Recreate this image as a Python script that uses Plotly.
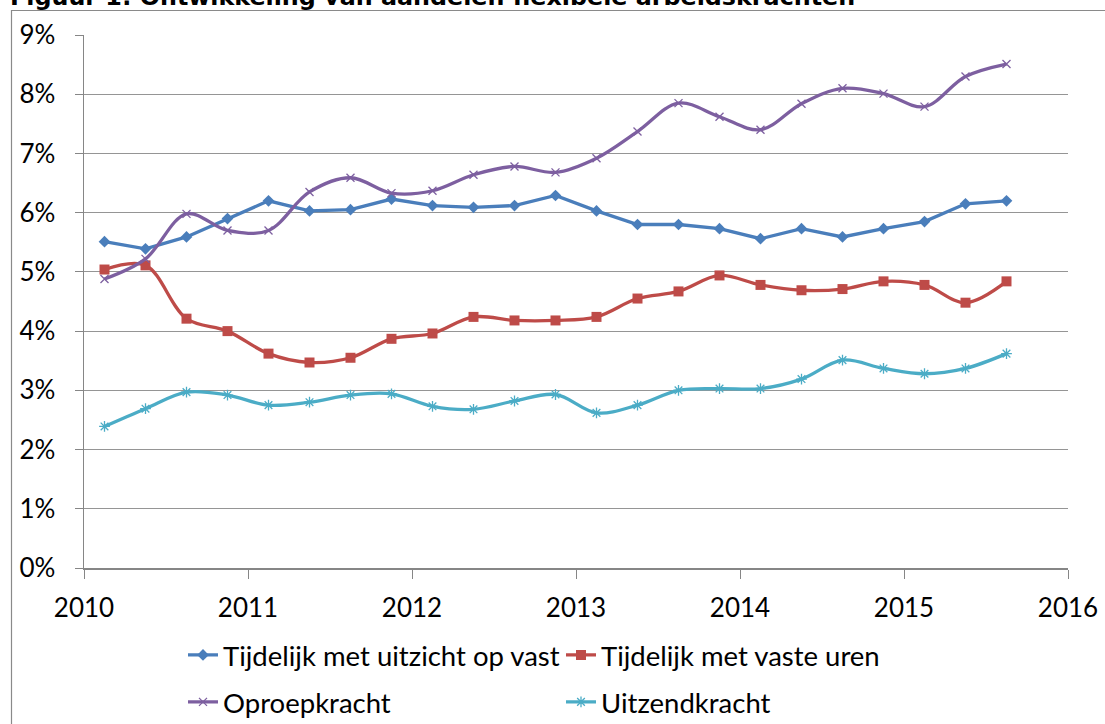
import plotly.graph_objects as go

quarters = ["2010Q1","2010Q2","2010Q3","2010Q4","2011Q1","2011Q2","2011Q3","2011Q4",
            "2012Q1","2012Q2","2012Q3","2012Q4","2013Q1","2013Q2","2013Q3","2013Q4",
            "2014Q1","2014Q2","2014Q3","2014Q4","2015Q1","2015Q2","2015Q3"]

tijdelijk_uitzicht = [5.51, 5.39, 5.59, 5.90, 6.20, 6.03, 6.05, 6.23, 6.12, 6.09, 6.12, 6.29,
                      6.03, 5.80, 5.80, 5.73, 5.56, 5.73, 5.59, 5.73, 5.85, 6.15, 6.20]
tijdelijk_vaste_uren = [5.04, 5.11, 4.21, 4.00, 3.62, 3.47, 3.55, 3.87, 3.96, 4.24, 4.18, 4.18,
                        4.24, 4.55, 4.67, 4.94, 4.78, 4.69, 4.71, 4.84, 4.78, 4.48, 4.84]
oproepkracht = [4.88, 5.22, 5.98, 5.70, 5.70, 6.35, 6.59, 6.33, 6.37, 6.64, 6.78, 6.68,
                6.92, 7.37, 7.85, 7.62, 7.40, 7.84, 8.10, 8.01, 7.79, 8.30, 8.51]
uitzendkracht = [2.39, 2.69, 2.97, 2.92, 2.75, 2.80, 2.92, 2.94, 2.73, 2.68, 2.82, 2.93,
                 2.62, 2.75, 3.00, 3.03, 3.03, 3.19, 3.51, 3.37, 3.28, 3.37, 3.62]

series_names = ["Tijdelijk met uitzicht op vast", "Tijdelijk met vaste uren",
                "Oproepkracht", "Uitzendkracht"]
title_text = "Figuur 1: Ontwikkeling van aandelen flexibele arbeidskrachten"

# decimal year at the middle of each quarter
x = [int(q[:4]) + (int(q[-1]) - 0.5) / 4 for q in quarters]

W, H = 1105, 724
ML, MR, MT, MB = 84, 37, 35, 156
PW, PH = W - ML - MR, H - MT - MB

def px_x(p):
    return (p - ML) / PW

def px_y(p):
    return (H - MB - p) / PH

FONT = "Lato, 'Open Sans', sans-serif"

fig = go.Figure()
styles = [
    dict(color="#4A7EBB", symbol="diamond", size=9, shape="linear", lw=0),
    dict(color="#BE4B48", symbol="square", size=10, shape="spline", lw=0),
    dict(color="#7D5FA0", symbol="x-thin", size=8, shape="spline", lw=1.3),
    dict(color="#4BACC6", symbol="asterisk", size=9, shape="spline", lw=1.3),
]
data = [tijdelijk_uitzicht, tijdelijk_vaste_uren, oproepkracht, uitzendkracht]
legends = ["legend", "legend2", "legend3", "legend4"]
for name, vals, st, lg in zip(series_names, data, styles, legends):
    fig.add_trace(go.Scatter(
        x=x, y=vals, name=name, mode="lines+markers", legend=lg,
        line=dict(color=st["color"], width=3.3, shape=st["shape"], smoothing=1),
        marker=dict(symbol=st["symbol"], size=st["size"], color=st["color"],
                    line=dict(color=st["color"], width=st["lw"])),
    ))

legfont = dict(family=FONT, size=27.5, color="#000000")
leg_pos = [(188 - 5, 655), (566 - 5, 655), (188 - 5, 702), (566 - 5, 702)]
for lg, (lx, ly) in zip(legends, leg_pos):
    fig.update_layout(**{lg: dict(x=px_x(lx), y=px_y(ly), xanchor="left", yanchor="middle",
                                  orientation="h", font=legfont, bgcolor="rgba(0,0,0,0)",
                                  borderwidth=0, itemclick=False)})

fig.update_layout(
    width=W, height=H,
    margin=dict(l=ML, r=MR, t=MT, b=MB, pad=0, autoexpand=False),
    paper_bgcolor="white", plot_bgcolor="white",
    font=dict(family=FONT, size=26, color="#000000"),
    showlegend=True,
    xaxis=dict(range=[2010, 2016], dtick=1, tick0=2010, showgrid=False,
               showline=True, linecolor="#868686", linewidth=1.5,
               ticks="outside", ticklen=9, tickcolor="#868686", tickwidth=1,
               tickfont=dict(family=FONT, size=26, color="#000000"),
               zeroline=False, fixedrange=True, ticklabelstandoff=7, automargin=False),
    yaxis=dict(range=[0, 9], dtick=1, tick0=0, ticksuffix="%",
               showgrid=True, gridcolor="#959595", gridwidth=1,
               showline=True, linecolor="#868686", linewidth=1.5,
               ticks="outside", ticklen=8, tickcolor="#868686", tickwidth=1,
               tickfont=dict(family=FONT, size=26, color="#000000"),
               zeroline=False, fixedrange=True, ticklabelstandoff=14, automargin=False),
)

# outer chart border (Excel chart area)
fig.add_shape(type="rect", xref="paper", yref="paper",
              x0=px_x(11.5), x1=px_x(1300), y0=px_y(10.5), y1=px_y(900),
              line=dict(color="#8a8a8a", width=1.2), fillcolor="rgba(0,0,0,0)", layer="below")

fig.add_annotation(text="<b>" + title_text + "</b>", xref="paper", yref="paper",
                   x=px_x(8), y=px_y(13), xanchor="left", yanchor="bottom", showarrow=False,
                   font=dict(family="DejaVu Sans", size=23.8, color="#000000"))

fig.write_html("out.html",
               config={"displayModeBar": False, "staticPlot": True},
               post_script="document.body.style.margin='0';document.body.style.padding='0';"
                           "document.body.style.overflow='hidden';")
